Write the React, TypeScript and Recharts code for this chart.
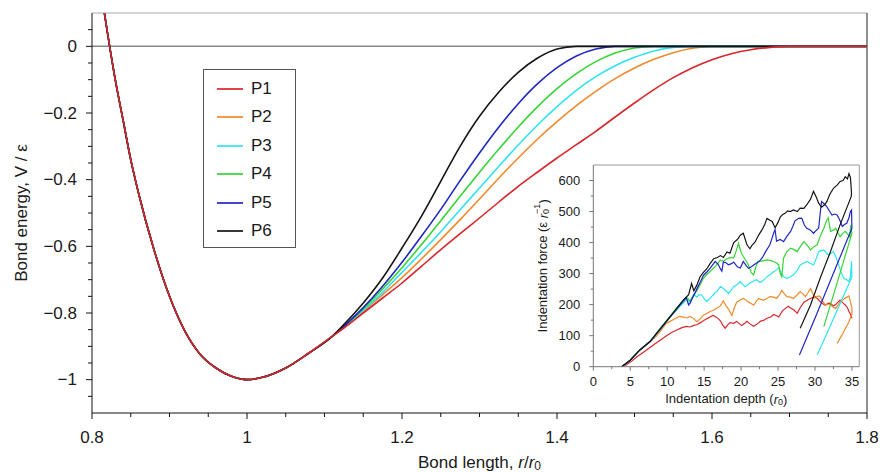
import { Label, Line, LineChart, ReferenceLine, XAxis, YAxis } from "recharts";

const FONT = '"Liberation Sans", Arial, Helvetica, sans-serif';
const TEXT = "#1a1a1a";

// ---- main plot: bond potentials V/eps against r/r0 ----
const R_GRID = [
  0.815, 0.82, 0.83, 0.84, 0.85, 0.86, 0.88, 0.9, 0.92, 0.94, 0.96, 0.98, 1.0, 1.02, 1.05, 1.08, 1.11,
  1.125, 1.15, 1.175, 1.2, 1.225, 1.25, 1.275, 1.3, 1.325, 1.35, 1.375, 1.4, 1.425, 1.45, 1.475, 1.5, 1.525,
  1.55, 1.575, 1.6, 1.625, 1.65, 1.675, 1.7, 1.725, 1.75, 1.775, 1.8,
];
// shared part of the well, r = 0.815 .. 1.11
const WELL = [
  0.115, 0.04, -0.1, -0.22, -0.34, -0.44, -0.61, -0.75, -0.855, -0.925, -0.965, -0.99, -1.0, -0.993, -0.965,
  -0.92, -0.87,
];
// r = 1.125 .. 1.8, where the potentials split
const P1_TAIL = [
  -0.845, -0.8, -0.755, -0.71, -0.66, -0.61, -0.562, -0.515, -0.467, -0.42, -0.377, -0.335, -0.295, -0.255,
  -0.212, -0.17, -0.13, -0.094, -0.064, -0.04, -0.022, -0.01, -0.003, 0, 0, 0, 0, 0,
];
const P2_TAIL = [
  -0.843, -0.795, -0.745, -0.694, -0.638, -0.58, -0.52, -0.458, -0.395, -0.335, -0.278, -0.226, -0.178, -0.135,
  -0.097, -0.065, -0.039, -0.019, -0.006, 0, 0, 0, 0, 0, 0, 0, 0, 0,
];
const P3_TAIL = [
  -0.842, -0.792, -0.738, -0.678, -0.618, -0.556, -0.49, -0.425, -0.36, -0.296, -0.236, -0.181, -0.132, -0.091,
  -0.058, -0.033, -0.014, -0.003, 0, 0, 0, 0, 0, 0, 0, 0, 0, 0,
];
const P4_TAIL = [
  -0.841, -0.788, -0.728, -0.664, -0.595, -0.523, -0.45, -0.378, -0.308, -0.242, -0.181, -0.127, -0.082, -0.046,
  -0.02, -0.005, 0, 0, 0, 0, 0, 0, 0, 0, 0, 0, 0, 0,
];
const P5_TAIL = [
  -0.84, -0.784, -0.72, -0.648, -0.57, -0.489, -0.403, -0.32, -0.242, -0.172, -0.112, -0.064, -0.029, -0.008,
  0, 0, 0, 0, 0, 0, 0, 0, 0, 0, 0, 0, 0, 0,
];
const P6_TAIL = [
  -0.835, -0.77, -0.695, -0.605, -0.51, -0.405, -0.3, -0.21, -0.137, -0.078, -0.035, -0.008, 0, 0,
  0, 0, 0, 0, 0, 0, 0, 0, 0, 0, 0, 0, 0, 0,
];

const X_TICKS = [
  0.8, 0.85, 0.9, 0.95, 1, 1.05, 1.1, 1.15, 1.2, 1.25, 1.3, 1.35, 1.4, 1.45, 1.5, 1.55, 1.6, 1.65, 1.7, 1.75, 1.8,
];
const X_MAJOR = [0.8, 1, 1.2, 1.4, 1.6, 1.8];
const Y_TICKS = [
  -1.05, -1, -0.95, -0.9, -0.85, -0.8, -0.75, -0.7, -0.65, -0.6, -0.55, -0.5, -0.45, -0.4, -0.35, -0.3, -0.25,
  -0.2, -0.15, -0.1, -0.05, 0, 0.05,
];
const Y_MAJOR = [-1, -0.8, -0.6, -0.4, -0.2, 0];

// ---- inset: indentation force against depth, [depth, force] ----
const INSET_P1 = [
  [3.84, 0], [4.5, 6], [5.2, 18], [5.9, 32], [6.5, 42], [7.2, 54], [7.9, 66], [8.6, 78], [9.2, 88], [9.9, 100],
  [10.6, 110], [11.3, 118], [12.0, 126], [12.6, 130], [13.1, 128], [13.6, 133], [14.0, 135], [14.5, 142],
  [14.9, 148], [15.4, 155], [15.8, 160], [16.2, 165], [16.5, 162], [16.9, 155], [17.2, 148], [17.5, 135],
  [17.85, 124], [18.2, 135], [18.5, 142], [19.0, 140], [19.4, 146], [19.8, 138], [20.1, 133], [20.5, 140],
  [20.8, 146], [21.2, 138], [21.7, 130], [22.2, 138], [22.6, 146], [23.1, 150], [23.5, 156], [24.0, 160],
  [24.4, 168], [24.8, 164], [25.1, 160], [25.6, 180], [26.0, 188], [26.4, 195], [26.65, 190], [27.2, 182],
  [27.6, 172], [28.0, 190], [28.5, 208], [29.0, 215], [29.4, 220], [30.0, 226], [30.4, 218], [30.7, 210],
  [31.0, 204], [31.4, 198], [31.8, 205], [32.1, 204], [32.5, 196], [32.8, 200], [33.1, 208], [33.4, 215],
  [33.8, 205], [34.1, 199], [34.4, 190], [34.6, 178], [34.8, 170], [35.0, 156],
];
const INSET_P2 = [
  [3.84, 0], [5, 21], [6.3, 54], [7.7, 80], [8.6, 100], [9.0, 112], [9.5, 128], [9.9, 140], [10.4, 146],
  [10.8, 151], [11.3, 158], [11.7, 162], [12.2, 160], [12.6, 157], [13.1, 162], [13.6, 155], [14.0, 145],
  [14.5, 155], [14.9, 166], [15.4, 172], [15.8, 178], [16.3, 182], [16.7, 188], [17.2, 196], [17.6, 212],
  [18.0, 195], [18.3, 185], [18.75, 165], [19.1, 190], [19.4, 208], [19.9, 215], [20.3, 220], [20.7, 214],
  [21.0, 208], [21.4, 203], [21.7, 198], [22.1, 212], [22.4, 220], [23.0, 214], [23.5, 220], [23.9, 226],
  [24.4, 224], [24.8, 220], [25.2, 232], [25.5, 246], [25.9, 234], [26.2, 226], [26.7, 224], [27.1, 220],
  [27.6, 232], [28.0, 242], [28.4, 234], [28.7, 226], [29.1, 240], [29.4, 252], [29.7, 236], [30.0, 221],
  [30.4, 228], [30.7, 226], [31.0, 212], [31.4, 199], [31.8, 202], [32.1, 199], [32.5, 192], [32.8, 188],
  [33.1, 198], [33.4, 210], [33.8, 216], [34.1, 221], [34.6, 228], [34.8, 210], [35.0, 190],
  [35.0, 170], [34.6, 145], [34.1, 122], [33.6, 100], [33.0, 75],
];
const INSET_P3 = [
  [3.84, 0], [5, 21], [6.3, 54], [7.7, 81], [8.6, 107], [9.5, 133], [10.4, 160], [11.0, 176], [11.7, 194],
  [12.2, 206], [12.6, 216], [13.1, 208], [13.6, 234], [14.0, 224], [14.3, 232], [14.65, 231], [15.1, 216],
  [15.35, 210], [15.7, 218], [16.0, 226], [16.4, 236], [16.7, 242], [17.2, 258], [17.6, 252], [18.0, 244],
  [18.3, 236], [18.7, 248], [19.0, 258], [19.5, 266], [19.9, 274], [20.2, 266], [20.55, 258], [20.9, 264],
  [21.2, 270], [21.7, 276], [22.1, 280], [22.5, 272], [22.8, 274], [23.2, 282], [23.5, 290], [24.0, 298],
  [24.4, 306], [24.8, 312], [25.1, 318], [25.4, 304], [25.75, 290], [26.2, 285], [26.7, 290], [27.1, 296],
  [27.6, 310], [28.0, 328], [28.5, 334], [28.9, 339], [29.3, 334], [29.8, 328], [30.2, 350], [30.5, 371],
  [30.9, 374], [31.2, 376], [31.5, 368], [31.8, 360], [32.2, 366], [32.5, 371], [32.9, 350], [33.2, 328],
  [33.6, 300], [33.9, 285], [34.3, 280], [34.6, 274], [34.8, 290], [34.95, 340],
  [35.0, 290], [34.0, 235], [33.0, 182], [32.0, 128], [31.2, 85], [30.3, 38],
];
const INSET_P4 = [
  [3.84, 0], [5, 21], [6.3, 54], [7.7, 82], [8.6, 110], [9.5, 137], [10.4, 163], [11.3, 190], [12.2, 214],
  [12.6, 224], [13.1, 212], [13.5, 228], [14.0, 244], [14.5, 266], [14.9, 285], [15.4, 298], [15.8, 307],
  [16.3, 318], [16.7, 328], [17.2, 344], [17.6, 340], [18.0, 346], [18.5, 352], [19.0, 350], [19.4, 378],
  [19.65, 398], [20.0, 368], [20.3, 355], [20.7, 340], [21.0, 328], [21.4, 302], [21.7, 296], [22.0, 322],
  [22.3, 340], [22.6, 339], [23.0, 342], [23.5, 344], [24.0, 342], [24.4, 339], [24.8, 334], [25.1, 328],
  [25.3, 300], [25.5, 290], [25.75, 350], [26.0, 362], [26.2, 371], [26.7, 382], [27.1, 378], [27.6, 371],
  [28.0, 386], [28.5, 403], [29.0, 390], [29.4, 376], [29.8, 386], [30.3, 393], [30.7, 420], [31.2, 446],
  [31.6, 473], [31.8, 480], [32.1, 436], [32.5, 440], [32.8, 446], [33.1, 432], [33.4, 419], [33.7, 428],
  [34.1, 436], [34.4, 428], [34.7, 419], [34.85, 457],
  [35.0, 430], [34.0, 350], [33.0, 270], [32.0, 192], [31.2, 129],
];
const INSET_P5 = [
  [3.84, 0], [5, 21], [6.3, 54], [7.7, 82], [8.6, 108], [9.5, 135], [10.4, 160], [11.3, 186], [12.2, 212],
  [12.6, 222], [12.9, 199], [13.1, 205], [13.5, 225], [14.0, 250], [14.5, 274], [14.9, 294], [15.4, 306],
  [15.8, 317], [16.2, 330], [16.5, 339], [16.9, 330], [17.2, 315], [17.4, 308], [17.6, 338], [18.0, 334],
  [18.3, 328], [18.7, 332], [19.0, 337], [19.5, 322], [19.9, 318], [20.3, 339], [20.7, 326], [21.0, 317],
  [21.4, 322], [21.7, 328], [22.1, 334], [22.4, 338], [22.9, 352], [23.3, 370], [23.9, 393], [24.2, 415],
  [24.4, 430], [24.6, 442], [24.8, 405], [25.3, 410], [25.75, 403], [26.2, 420], [26.7, 436], [27.0, 452],
  [27.3, 470], [27.8, 478], [28.2, 479], [28.6, 455], [28.9, 446], [29.4, 440], [29.8, 430], [30.2, 440],
  [30.5, 446], [30.8, 515], [30.9, 532], [31.2, 525], [31.6, 516], [32.0, 500], [32.3, 489], [32.7, 492],
  [33.0, 489], [33.4, 470], [33.7, 452], [34.0, 458], [34.3, 462], [34.6, 480], [34.8, 500], [34.95, 505],
  [35.0, 446], [34.0, 388], [33.0, 330], [32.0, 272], [31.0, 214], [30.0, 156], [29.0, 100], [27.9, 38],
];
const INSET_P6 = [
  [3.84, 0], [4.5, 12], [5, 21], [6.3, 54], [7.7, 81], [8.6, 108], [9.5, 134], [10.4, 161], [11.3, 188],
  [12.2, 215], [12.9, 232], [13.3, 268], [13.6, 245], [14.0, 262], [14.45, 290], [14.9, 304], [15.35, 315],
  [15.8, 332], [16.3, 348], [16.8, 352], [17.2, 358], [17.6, 352], [18.1, 370], [18.5, 366], [19.0, 400],
  [19.5, 410], [19.9, 424], [20.3, 430], [20.8, 393], [21.2, 380], [21.5, 392], [21.9, 402], [22.4, 425],
  [22.8, 440], [23.2, 458], [23.5, 478], [23.9, 472], [24.2, 468], [24.6, 448], [25.0, 465], [25.3, 482],
  [25.6, 490], [26.0, 495], [26.3, 502], [26.65, 500], [27.1, 505], [27.6, 500], [28.0, 511], [28.5, 510],
  [28.9, 522], [29.4, 540], [29.8, 565], [30.2, 545], [30.5, 527], [30.9, 514], [31.3, 522], [31.6, 532],
  [32.0, 555], [32.5, 575], [33.0, 585], [33.4, 597], [33.8, 600], [34.1, 612], [34.4, 605], [34.6, 622],
  [34.8, 610], [34.95, 560],
  [34.9, 548], [33.4, 457], [32.1, 371], [30.7, 285], [29.4, 199], [28.0, 124],
];

const INSET_X_TICKS = [0, 2.5, 5, 7.5, 10, 12.5, 15, 17.5, 20, 22.5, 25, 27.5, 30, 32.5, 35];
const INSET_X_MAJOR = [0, 5, 10, 15, 20, 25, 30, 35];
const INSET_Y_TICKS = [0, 50, 100, 150, 200, 250, 300, 350, 400, 450, 500, 550, 600];
const INSET_Y_MAJOR = [0, 100, 200, 300, 400, 500, 600];

const SERIES = [
  { key: "P1", color: "#d8262b", tail: P1_TAIL, inset: INSET_P1 },
  { key: "P2", color: "#f08a2a", tail: P2_TAIL, inset: INSET_P2 },
  { key: "P3", color: "#2fe3ee", tail: P3_TAIL, inset: INSET_P3 },
  { key: "P4", color: "#36d436", tail: P4_TAIL, inset: INSET_P4 },
  { key: "P5", color: "#1f27c4", tail: P5_TAIL, inset: INSET_P5 },
  { key: "P6", color: "#151515", tail: P6_TAIL, inset: INSET_P6 },
];
// red sits on top of the shared well and at the far right of the zero line
const DRAW_ORDER = ["P2", "P3", "P4", "P5", "P6", "P1"];

const potentialData = R_GRID.map((r, i) => {
  const row: Record<string, number> = { r };
  SERIES.forEach((s) => {
    row[s.key] = i < WELL.length ? WELL[i] : s.tail[i - WELL.length];
  });
  return row;
});

type TickCfg = {
  side: "left" | "bottom";
  majors: number[];
  major: number;
  minor: number;
  gap: number;
  size: number;
  color: string;
};

const axisTick = (cfg: TickCfg) =>
  function AxisTick(props: any) {
    const { x, y, payload } = props;
    const v = Number(payload.value);
    const isMajor = cfg.majors.some((m) => Math.abs(m - v) < 1e-6);
    const len = isMajor ? cfg.major : cfg.minor;
    const text = String(v).replace("-", "\u2212");
    if (cfg.side === "left") {
      return (
        <g>
          <line x1={x - len} x2={x} y1={y} y2={y} stroke={cfg.color} />
          {isMajor && (
            <text x={x - cfg.gap} y={y} textAnchor="end" dominantBaseline="central" fontSize={cfg.size} fontFamily={FONT} fill={TEXT}>
              {text}
            </text>
          )}
        </g>
      );
    }
    return (
      <g>
        <line x1={x} x2={x} y1={y} y2={y + len} stroke={cfg.color} />
        {isMajor && (
          <text x={x} y={y + cfg.gap} textAnchor="middle" dominantBaseline="central" fontSize={cfg.size} fontFamily={FONT} fill={TEXT}>
            {text}
          </text>
        )}
      </g>
    );
  };

const mainYTick = axisTick({ side: "left", majors: Y_MAJOR, major: 6, minor: 4, gap: 15, size: 17, color: "#111" });
const mainXTick = axisTick({ side: "bottom", majors: X_MAJOR, major: 6, minor: 4, gap: 24, size: 17, color: "#111" });
const insetYTick = axisTick({ side: "left", majors: INSET_Y_MAJOR, major: 4, minor: 2.5, gap: 13, size: 13, color: "#777" });
const insetXTick = axisTick({ side: "bottom", majors: INSET_X_MAJOR, major: 4, minor: 2.5, gap: 15, size: 13, color: "#777" });

function PotentialLegend() {
  return (
    <div
      style={{
        position: "absolute",
        left: 203,
        top: 69,
        width: 93,
        height: 179,
        boxSizing: "border-box",
        border: "1px solid #555",
        background: "#fff",
        fontFamily: FONT,
        fontSize: 17,
        color: TEXT,
      }}
    >
      {SERIES.map((s, i) => (
        <div
          key={s.key}
          style={{ position: "absolute", left: 13, top: 8 + i * 28.4, height: 22, display: "flex", alignItems: "center" }}
        >
          <span style={{ display: "inline-block", width: 26, height: 2, background: s.color, opacity: 0.85 }} />
          <span style={{ marginLeft: 8 }}>{s.key}</span>
        </div>
      ))}
    </div>
  );
}

function IndentationInset() {
  return (
    <div style={{ position: "absolute", left: 523, top: 160 }}>
      <LineChart width={340} height={250} margin={{ top: 5, right: 3.7, bottom: 0, left: 0 }}>
        <XAxis
          xAxisId={0}
          type="number"
          dataKey="d"
          domain={[0, 36]}
          ticks={INSET_X_TICKS}
          interval={0}
          allowDataOverflow
          height={43.3}
          tickSize={0}
          tickMargin={0}
          tickLine={false}
          axisLine={{ stroke: "#777" }}
          tick={insetXTick}
        >
          <Label
            content={(p: any) => {
              const vb = p.viewBox ?? { x: 70.3, y: 206.7, width: 266, height: 43.3 };
              return (
                <text x={vb.x + vb.width / 2} y={vb.y + 32} textAnchor="middle" dominantBaseline="central" fontSize={13} fontFamily={FONT} fill={TEXT}>
                  Indentation depth (<tspan fontStyle="italic">r</tspan>
                  <tspan dy={3} fontSize={9}>0</tspan>
                  <tspan dy={-3}>)</tspan>
                </text>
              );
            }}
          />
        </XAxis>
        <YAxis
          yAxisId={0}
          type="number"
          domain={[0, 650]}
          ticks={INSET_Y_TICKS}
          interval={0}
          allowDataOverflow
          width={70.3}
          tickSize={0}
          tickMargin={0}
          tickLine={false}
          axisLine={{ stroke: "#777" }}
          tick={insetYTick}
        >
          <Label
            content={(p: any) => {
              const vb = p.viewBox ?? { x: 0, y: 5, width: 70.3, height: 201.7 };
              const cx = vb.x + 20;
              const cy = vb.y + vb.height / 2;
              return (
                <text
                  x={cx}
                  y={cy}
                  transform={`rotate(-90 ${cx} ${cy})`}
                  textAnchor="middle"
                  dominantBaseline="central"
                  fontSize={13}
                  fontFamily={FONT}
                  fill={TEXT}
                >
                  Indentation force (ε <tspan fontStyle="italic">r</tspan>
                  <tspan dy={3} fontSize={9}>0</tspan>
                  <tspan dx={-5} dy={-9} fontSize={9}>{"\u22121"}</tspan>
                  <tspan dy={6}>)</tspan>
                </text>
              );
            }}
          />
        </YAxis>
        <ReferenceLine y={650} stroke="#999" strokeWidth={1} />
        <ReferenceLine x={36} stroke="#999" strokeWidth={1} />
        {SERIES.map((s) => (
          <Line
            key={s.key}
            data={s.inset.map(([d, f]) => ({ d, f }))}
            dataKey="f"
            type="linear"
            stroke={s.color}
            strokeWidth={1.2}
            dot={false}
            isAnimationActive={false}
          />
        ))}
      </LineChart>
    </div>
  );
}

export default function App() {
  return (
    <div style={{ position: "absolute", left: 0, top: 0, width: 880, height: 472, background: "#fff", fontFamily: FONT }}>
      <LineChart width={880} height={472} data={potentialData} margin={{ top: 13, right: 13, bottom: 0, left: 0 }}>
        <XAxis
          type="number"
          dataKey="r"
          domain={[0.8, 1.8]}
          ticks={X_TICKS}
          interval={0}
          allowDataOverflow
          height={59}
          tickSize={0}
          tickMargin={0}
          tickLine={false}
          axisLine={{ stroke: "#111" }}
          tick={mainXTick}
        >
          <Label
            content={(p: any) => {
              const vb = p.viewBox ?? { x: 92, y: 413, width: 775, height: 59 };
              return (
                <text x={vb.x + vb.width / 2} y={vb.y + 49} textAnchor="middle" dominantBaseline="central" fontSize={17} fontFamily={FONT} fill={TEXT}>
                  Bond length, <tspan fontStyle="italic">r</tspan>/<tspan fontStyle="italic">r</tspan>
                  <tspan dy={4} fontSize={12}>0</tspan>
                </text>
              );
            }}
          />
        </XAxis>
        <YAxis
          type="number"
          domain={[-1.1, 0.1]}
          ticks={Y_TICKS}
          interval={0}
          allowDataOverflow
          width={92}
          tickSize={0}
          tickMargin={0}
          tickLine={false}
          axisLine={{ stroke: "#111" }}
          tick={mainYTick}
        >
          <Label
            content={(p: any) => {
              const vb = p.viewBox ?? { x: 0, y: 13, width: 92, height: 400 };
              const cx = vb.x + 21;
              const cy = vb.y + vb.height / 2;
              return (
                <text
                  x={cx}
                  y={cy}
                  transform={`rotate(-90 ${cx} ${cy})`}
                  textAnchor="middle"
                  dominantBaseline="central"
                  fontSize={17}
                  fontFamily={FONT}
                  fill={TEXT}
                >
                  Bond energy, V / ε
                </text>
              );
            }}
          />
        </YAxis>
        <ReferenceLine y={0.1} stroke="#aaa" strokeWidth={1} />
        <ReferenceLine x={1.8} stroke="#222" strokeWidth={1} />
        <ReferenceLine y={0} stroke="#888" strokeWidth={1.5} />
        {DRAW_ORDER.map((key) => {
          const s = SERIES.find((it) => it.key === key)!;
          return (
            <Line
              key={key}
              dataKey={key}
              type="monotone"
              stroke={s.color}
              strokeWidth={1.6}
              dot={false}
              isAnimationActive={false}
            />
          );
        })}
      </LineChart>
      <PotentialLegend />
      <IndentationInset />
    </div>
  );
}
